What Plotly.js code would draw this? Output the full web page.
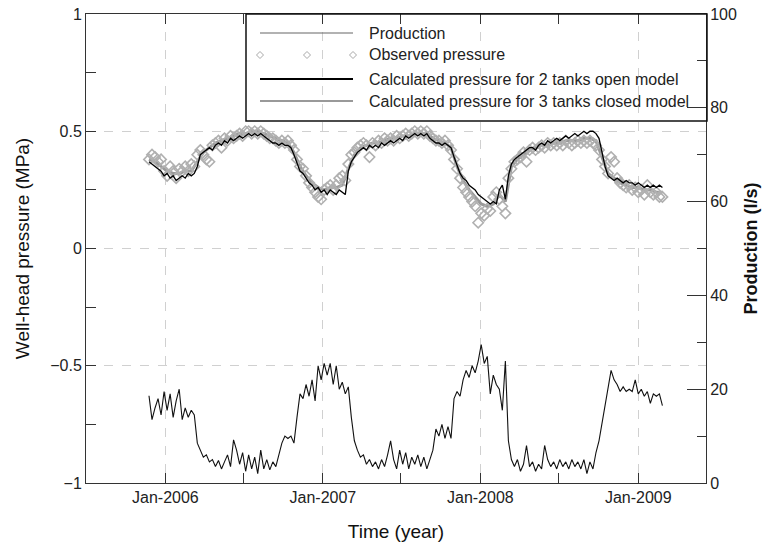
<!DOCTYPE html>
<html>
<head>
<meta charset="utf-8">
<script src="https://cdn.plot.ly/plotly-3.0.1.min.js"></script>
<style>
html,body{margin:0;padding:0;background:#fff;}
#chart{width:770px;height:545px;}
</style>
</head>
<body>
<div id="chart"></div>
<script>
// ---- data ----
// weekly samples starting 2005-11-24
const weeklyStart = '2005-11-24';
const productionLs = [
 18.6,13.5,16,18,14.5,19.5,15.5,19,14,17.5,20,13.5,16,14,15.5,14.5,
 8.5,7,5.5,6,4.5,5,3.5,4.8,3,4.5,6,3.5,9.2,7,4,6.5,2.5,6,3,5.5,2,7,3,5,2.8,4.5,3.5,
 6,8.5,10,9.5,10,8.5,14,19,18,21,18.5,22,17.5,25,22,25.5,23,25.5,21,25,20,21.5,19,20.5,
 14,9,7,5.5,6,4,5,3.5,4.5,3,5,3.5,6,9,5,3,7,4,6.5,3,5.5,4,6,3.5,5.5,3,5,
 7,11.5,10,12.5,9.5,12,9.5,18,19.5,18.5,22,24,22.5,25,23.5,26,29.5,25.5,27,19,23,21,20,15.5,26,
 9,5,3.5,5,2.5,4,8,3.5,4.5,2.5,4,3,8,5,3.5,4.5,3,5,3.5,4.5,3,5,3.5,4.5,3,5,2,4.5,3,6.5,
 9,13,17,21,24,22,21,19.5,20.5,19.5,20,19.5,22,19,20,18.5,19.5,17,19,18.5,19,16.5
];
const observedMPa = [
 0.38,0.40,0.39,0.37,0.38,0.33,0.31,0.35,0.33,0.30,0.34,0.33,0.35,0.33,0.36,0.35,
 0.40,0.42,0.40,0.38,0.37,0.44,0.45,0.46,0.43,0.47,0.46,0.48,0.47,0.48,0.49,0.48,0.50,0.50,0.49,0.50,0.49,0.50,0.49,0.48,0.47,0.47,0.46,
 0.45,0.46,0.45,0.46,0.44,0.42,0.38,0.35,0.34,0.31,0.28,0.26,0.24,0.22,0.21,0.25,0.26,0.27,0.25,0.27,0.30,0.31,0.29,
 0.36,0.40,0.41,0.43,0.44,0.45,0.44,0.39,0.45,0.44,0.46,0.45,0.47,0.46,0.47,0.46,0.48,0.47,0.48,0.49,0.48,0.49,0.50,0.49,0.50,0.49,0.50,
 0.48,0.47,0.46,0.46,0.45,0.46,0.44,0.42,0.38,0.34,0.30,0.26,0.24,0.22,0.20,0.18,0.11,0.15,0.14,0.17,0.16,0.22,0.24,0.21,0.18,0.15,
 0.30,0.34,0.37,0.38,0.39,0.41,0.37,0.42,0.43,0.42,0.43,0.44,0.43,0.45,0.44,0.45,0.44,0.45,0.44,0.46,0.45,0.44,0.45,0.46,0.45,0.46,0.45,0.46,0.45,0.44,
 0.42,0.38,0.35,0.32,0.39,0.37,0.30,0.28,0.27,0.26,0.27,0.25,0.26,0.24,0.25,0.23,0.27,0.24,0.23,0.24,0.22,0.22
];
const calc2TanksOpenMPa = [
 0.37,0.36,0.35,0.34,0.33,0.31,0.32,0.30,0.31,0.29,0.30,0.31,0.30,0.32,0.31,0.32,
 0.35,0.40,0.41,0.42,0.43,0.42,0.44,0.45,0.44,0.46,0.45,0.47,0.46,0.47,0.48,0.47,0.48,0.49,0.48,0.49,0.48,0.49,0.48,0.47,0.46,0.45,0.45,
 0.44,0.45,0.44,0.44,0.43,0.40,0.36,0.33,0.32,0.30,0.28,0.27,0.25,0.26,0.24,0.25,0.23,0.25,0.24,0.23,0.25,0.24,0.23,
 0.33,0.37,0.39,0.41,0.42,0.43,0.42,0.44,0.43,0.44,0.43,0.45,0.44,0.45,0.46,0.45,0.46,0.47,0.46,0.48,0.47,0.48,0.49,0.48,0.49,0.48,0.49,
 0.47,0.46,0.45,0.45,0.44,0.45,0.44,0.43,0.39,0.35,0.32,0.30,0.29,0.27,0.26,0.25,0.23,0.22,0.21,0.20,0.19,0.20,0.19,0.25,0.27,0.21,
 0.31,0.36,0.38,0.39,0.40,0.41,0.42,0.43,0.43,0.42,0.44,0.45,0.44,0.46,0.45,0.46,0.47,0.46,0.47,0.48,0.47,0.48,0.49,0.48,0.49,0.50,0.49,0.50,0.50,0.49,
 0.47,0.41,0.35,0.31,0.30,0.29,0.30,0.29,0.28,0.29,0.28,0.28,0.27,0.28,0.27,0.26,0.27,0.26,0.27,0.26,0.27,0.26
];
// fortnightly samples starting 2005-11-24
const calc3TanksClosedMPa = [
 0.38,0.37,0.35,0.33,0.32,0.32,0.33,0.33,0.37,0.41,0.43,0.45,0.46,0.47,0.48,0.49,0.49,0.50,0.50,0.49,0.48,0.47,0.46,0.45,
 0.41,0.35,0.31,0.28,0.26,0.25,0.26,0.26,0.27,0.34,0.40,0.43,0.44,0.45,0.45,0.46,0.47,0.47,0.48,0.48,0.49,0.49,0.49,
 0.47,0.46,0.45,0.43,0.35,0.29,0.25,0.22,0.19,0.18,0.19,0.23,0.20,0.35,0.38,0.40,0.42,0.43,0.44,0.44,0.45,0.45,0.46,0.46,0.46,0.47,0.47,0.46,
 0.39,0.32,0.30,0.28,0.27,0.26,0.26,0.25,0.25,0.24,0.24
];
const xTickLabelFormat = '%b-%Y';
const legendLabels = ['Production','Observed pressure','Calculated pressure for 2 tanks open model','Calculated pressure for 3 tanks closed model'];

function sampleDates(start, stepDays, n){
  const t0 = Date.parse(start + 'T00:00:00Z');
  const out = [];
  for(let i=0;i<n;i++){ out.push(new Date(t0 + i*stepDays*86400000).toISOString().slice(0,10)); }
  return out;
}
const weeklyDates = sampleDates(weeklyStart, 7, productionLs.length);
const obsDates = sampleDates(weeklyStart, 7, observedMPa.length);
const c2Dates = sampleDates(weeklyStart, 7, calc2TanksOpenMPa.length);
const c3Dates = sampleDates(weeklyStart, 14, calc3TanksClosedMPa.length);

const FONT = 'Liberation Sans, Arial, sans-serif';
const traces = [
  {x: c3Dates, y: calc3TanksClosedMPa, type:'scatter', mode:'lines', name: legendLabels[3],
   line:{color:'#9a9a9a', width:3}, yaxis:'y'},
  {x: obsDates, y: observedMPa, type:'scatter', mode:'markers', name: legendLabels[1],
   marker:{symbol:'diamond-open', size:8, color:'#b0b0b0', line:{width:1.6, color:'#b0b0b0'}}, yaxis:'y'},
  {x: c2Dates, y: calc2TanksOpenMPa, type:'scatter', mode:'lines', name: legendLabels[2],
   line:{color:'#000', width:1.3}, yaxis:'y'},
  {x: weeklyDates, y: productionLs, type:'scatter', mode:'lines', name: legendLabels[0],
   line:{color:'#111', width:1.1}, yaxis:'y2'}
];

// ---- custom legend (paper coordinates) ----
const L = 86, R = 706, T = 14, B = 483;
const px = v => (v - L)/(R - L);
const py = v => (B - v)/(B - T);
const rowY = [33, 55, 79, 101];
const shapes = [
  {type:'rect', xref:'paper', yref:'paper', x0:px(246), x1:px(707), y0:py(121), y1:py(14), line:{color:'#111', width:1.5}, fillcolor:'rgba(0,0,0,0)'},
  {type:'line', xref:'paper', yref:'paper', x0:px(260), x1:px(353), y0:py(rowY[0]), y1:py(rowY[0]), line:{color:'#666', width:1.2}},
  {type:'line', xref:'paper', yref:'paper', x0:px(260), x1:px(353), y0:py(rowY[2]), y1:py(rowY[2]), line:{color:'#000', width:2}},
  {type:'line', xref:'paper', yref:'paper', x0:px(260), x1:px(353), y0:py(rowY[3]), y1:py(rowY[3]), line:{color:'#777', width:1.5}}
];
[260, 307, 353].forEach(cx => {
  const x = px(cx), y = py(rowY[1]), dx = 3.5/(R-L), dy = 3.5/(B-T);
  shapes.push({type:'path', xref:'paper', yref:'paper',
    path:`M${x-dx},${y} L${x},${y+dy} L${x+dx},${y} L${x},${y-dy} Z`,
    line:{color:'#a8a8a8', width:1}, fillcolor:'rgba(0,0,0,0)'});
});
const annotations = legendLabels.map((t,i) => ({
  text: t, xref:'paper', yref:'paper', x: px(367), y: py(rowY[i]), xanchor:'left', yanchor:'middle',
  showarrow:false, font:{family:FONT, size:16, color:'#222'}
}));

const layout = {
  width:770, height:545,
  margin:{l:L, r:770-R, t:T, b:545-B},
  paper_bgcolor:'#fff', plot_bgcolor:'#fff',
  font:{family:FONT, size:16, color:'#222'},
  showlegend:false,
  xaxis:{
    type:'date', range:['2005-07-01','2009-06-07'],
    tick0:'2006-01-01', dtick:'M12', tickformat:xTickLabelFormat,
    ticks:'inside', ticklen:10, tickcolor:'#333', tickwidth:1,
    showgrid:true, gridcolor:'#d0d0d0', griddash:'dash', gridwidth:1,
    minor:{dtick:'M6', tick0:'2006-01-01', ticks:'inside', ticklen:10, tickcolor:'#333', showgrid:false},
    showline:true, linecolor:'#333', linewidth:1, mirror:'allticks',
    zeroline:false,
    tickfont:{family:FONT, size:16, color:'#222'},
    title:{text:'Time (year)', font:{family:FONT, size:19, color:'#111'}, standoff:19}
  },
  yaxis:{
    range:[-1,1], dtick:0.5, tick0:0,
    ticks:'inside', ticklen:10, tickcolor:'#333',
    minor:{dtick:0.25, ticks:'inside', ticklen:10, tickcolor:'#333', showgrid:false},
    showgrid:true, gridcolor:'#d0d0d0', griddash:'dash', gridwidth:1,
    zeroline:false, showline:true, linecolor:'#333', linewidth:1, mirror:false,
    tickfont:{family:FONT, size:16, color:'#222'},
    title:{text:'Well-head pressure (MPa)', font:{family:FONT, size:19, color:'#111'}, standoff:15}
  },
  yaxis2:{
    overlaying:'y', side:'right', range:[0,100], dtick:20, tick0:0,
    ticks:'inside', ticklen:19, tickcolor:'#333',
    minor:{dtick:10, ticks:'inside', ticklen:9, tickcolor:'#333', showgrid:false},
    showgrid:false, zeroline:false, showline:true, linecolor:'#333', linewidth:1,
    tickfont:{family:FONT, size:16, color:'#222'},
    title:{text:'<b>Production (l/s)</b>', font:{family:FONT, size:18, color:'#111'}, standoff:8}
  },
  shapes: shapes,
  annotations: annotations
};

Plotly.newPlot('chart', traces, layout, {displayModeBar:false, staticPlot:true});
</script>
</body>
</html>
